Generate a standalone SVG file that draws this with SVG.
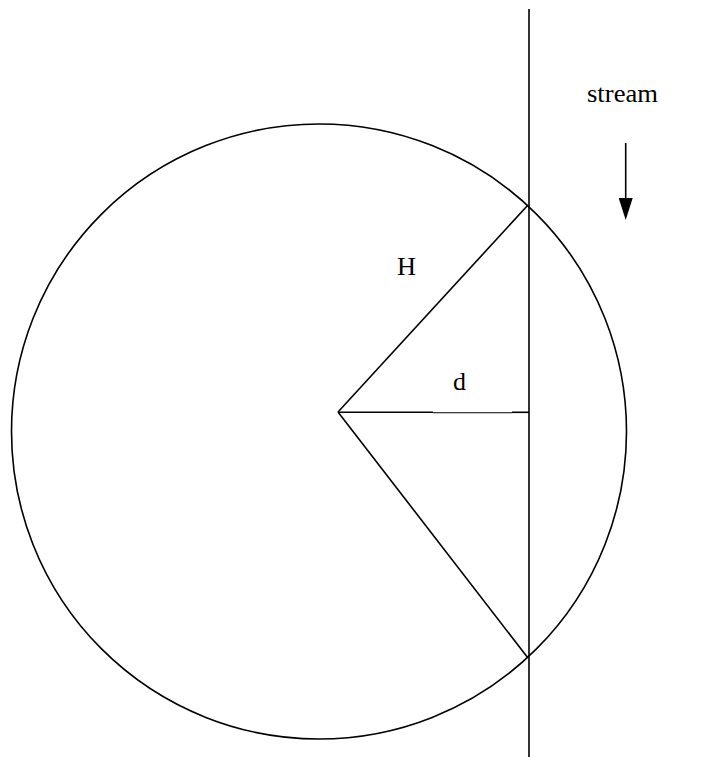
<svg xmlns="http://www.w3.org/2000/svg" width="713" height="757" viewBox="0 0 713 757">
<style>
.ln{stroke:#000;stroke-width:1.6;fill:none}
.lbl{font-family:"Liberation Serif","Times New Roman",serif;font-size:25px;fill:#000}
</style>
<defs>
<marker id="ah" markerWidth="22" markerHeight="14" refX="0" refY="7" orient="auto" markerUnits="userSpaceOnUse" viewBox="0 0 22 14">
<path d="M0,0 L22,7 L0,14 Z" fill="#000"/>
</marker>
</defs>
<rect width="713" height="757" fill="#fff"/>
<g id="circle"><circle class="ln" cx="319" cy="431.5" r="307.5"/></g>
<g id="connectors">
<line id="stream-line" class="ln" x1="529" y1="9" x2="529" y2="757"/>
<line id="H-line" class="ln" x1="338" y1="412" x2="528" y2="205"/>
<line id="low-line" class="ln" x1="338" y1="412" x2="528" y2="658"/>
<line class="ln" x1="338" y1="412.3" x2="433" y2="412.3"/>
<line class="ln" x1="433" y1="412.8" x2="512" y2="412.8" style="stroke-width:1.1"/>
<line class="ln" x1="512" y1="412.3" x2="529" y2="412.3"/>
<line id="flow-arrow" class="ln" x1="625.7" y1="143" x2="625.7" y2="198" marker-end="url(#ah)"/>
</g>
<g id="labels">
<text class="lbl" x="587" y="102" textLength="71" lengthAdjust="spacingAndGlyphs">stream</text>
<text class="lbl" x="397" y="275" textLength="19" lengthAdjust="spacingAndGlyphs">H</text>
<text class="lbl" x="453" y="390" textLength="13" lengthAdjust="spacingAndGlyphs">d</text>
</g>
</svg>
